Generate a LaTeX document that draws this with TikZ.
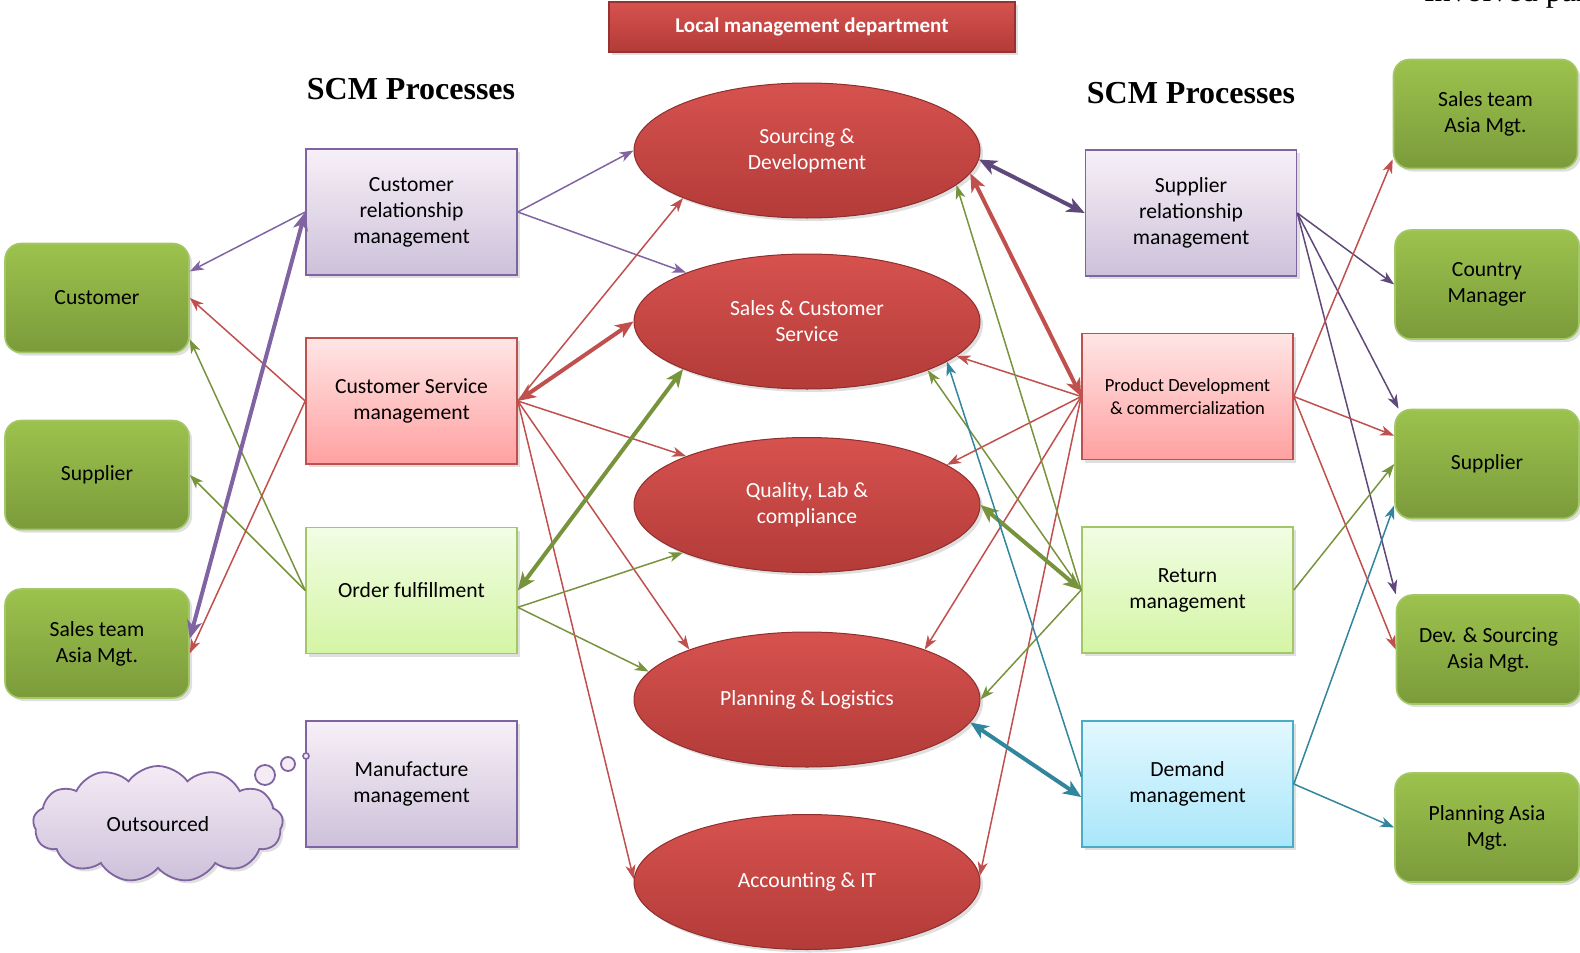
\documentclass[tikz,border=0pt]{standalone}
\usepackage{fontspec}
\setmainfont{Carlito}
\newfontfamily\timesfont{Liberation Serif}
\usepackage{tikz}
\usetikzlibrary{arrows.meta,shapes.geometric,shapes.symbols,shadows,calc}

\definecolor{olgreen}{HTML}{77933C}
\definecolor{ltgreen}{HTML}{A3C767}
\definecolor{greentop}{HTML}{9CC24D}
\definecolor{greenbot}{HTML}{7B9B3B}
\definecolor{offpurple}{HTML}{8064A2}
\definecolor{dkpurple}{HTML}{5F497A}
\definecolor{offred}{HTML}{C0504D}
\definecolor{offteal}{HTML}{31859C}
\definecolor{offcyan}{HTML}{4BACC6}
\definecolor{redtop}{HTML}{D6524F}
\definecolor{redbot}{HTML}{B33B38}
\definecolor{limetop}{HTML}{F1FDE4}
\definecolor{limebot}{HTML}{D4F5A4}
\definecolor{skytop}{HTML}{E2F8FF}
\definecolor{skybot}{HTML}{A9E6FA}

\tikzset{
  txt/.style={font=\fontsize{10.8}{13}\selectfont, align=center, inner sep=0pt},
  softshadow/.style={drop shadow={shadow xshift=1.5pt, shadow yshift=-1.5pt, opacity=0.25}},
  party/.style={txt, rectangle, rounded corners=8pt, draw=ltgreen, line width=0.8pt,
    top color=greentop, bottom color=greenbot, minimum width=92pt, minimum height=54.5pt, softshadow},
  procbox/.style={txt, rectangle, line width=0.8pt, minimum width=105.5pt, minimum height=63pt, softshadow},
  purplebox/.style={procbox, draw=offpurple, top color=violet!6, bottom color=offpurple!40},
  pinkbox/.style={procbox, draw=offred, top color=red!10, bottom color=red!37},
  limebox/.style={procbox, draw=ltgreen, top color=limetop, bottom color=limebot},
  cyanbox/.style={procbox, draw=offcyan, top color=skytop, bottom color=skybot},
  dept/.style={txt, ellipse, text=white, draw=redbot!80!black, line width=0.5pt,
    top color=redtop, bottom color=redbot, minimum width=173pt, minimum height=67.5pt, softshadow},
  banner/.style={rectangle, text=white, font=\bfseries\fontsize{10.5}{12}\selectfont,
    draw=redbot!85!black, line width=0.6pt, top color=redtop, bottom color=redbot,
    minimum width=203pt, minimum height=25pt, softshadow},
  heading/.style={font=\timesfont\bfseries\fontsize{16}{18}\selectfont},
  thinarrow/.style={line width=0.75pt, -{Stealth[length=7pt,width=5pt,inset=2pt]}},
  thickarrow/.style={line width=2pt, {Stealth[length=9pt,width=7.5pt,inset=2.5pt]}-{Stealth[length=9pt,width=7.5pt,inset=2.5pt]}}
}

\begin{document}
\begin{tikzpicture}[x=0.5pt, y=-0.5pt]
\useasboundingbox (0,0) rectangle (1580,953);
\clip (0,0) rectangle (1580,953);

\node [banner] (lmd) at (812,27) {Local management department};
\node [heading] (scml) at (411,89) {SCM Processes};
\node [heading] (scmr) at (1191,93) {SCM Processes};
\node [anchor=base west, font=\timesfont\fontsize{16}{18}\selectfont] (inv) at (1417,2) {Involved parties};

\node [party] (cust) at (97,298) {Customer};
\node [party] (sup) at (97,475) {Supplier};
\node [party] (sta) at (97,643.5) {Sales team\\Asia Mgt.};

\node [party] (sta2) at (1485.5,114) {Sales team\\Asia Mgt.};
\node [party] (cm) at (1487,284.5) {Country\\Manager};
\node [party] (sup2) at (1487,464) {Supplier};
\node [party] (dsa) at (1488.5,649.5) {Dev. \& Sourcing\\Asia Mgt.};
\node [party] (pam) at (1487,827.5) {Planning Asia\\Mgt.};

\node [purplebox] (crm) at (411.5,212) {Customer\\relationship\\management};
\node [pinkbox] (csm) at (411.5,401) {Customer Service\\management};
\node [limebox] (of) at (411.5,590.5) {Order fulfillment};
\node [purplebox] (mm) at (411.5,784) {Manufacture\\management};

\node [purplebox] (srm) at (1191,213) {Supplier\\relationship\\management};
\node [pinkbox, font=\fontsize{9.3}{11.2}\selectfont] (pdc) at (1187.5,396.5) {Product Development\\\& commercialization};
\node [limebox] (rm) at (1187.5,590) {Return\\management};
\node [cyanbox] (dm) at (1187.5,784) {Demand\\management};

\node [dept] (sd) at (807,150.5) {Sourcing \&\\Development};
\node [dept] (scs) at (807,321.5) {Sales \& Customer\\Service};
\node [dept] (qlc) at (807,505) {Quality, Lab \&\\compliance};
\node [dept] (pl) at (807,699.5) {Planning \& Logistics};
\node [dept] (ait) at (807,882) {Accounting \& IT};

\node [txt, cloud, cloud puffs=13, cloud puff arc=110, aspect=2.1, draw=offpurple, line width=0.9pt,
  top color=violet!8, bottom color=offpurple!40, minimum width=125pt, minimum height=58pt, softshadow] (outs) at (158,824) {Outsourced};
\node [circle, draw=offpurple, line width=0.9pt, fill=violet!8, minimum size=10pt, inner sep=0pt] (b1) at (265,775) {};
\node [circle, draw=offpurple, line width=0.9pt, fill=violet!8, minimum size=7pt, inner sep=0pt] (b2) at (288,764) {};
\node [circle, draw=offpurple, line width=0.8pt, fill=violet!8, minimum size=3pt, inner sep=0pt] (b3) at (306,756) {};

\draw [thinarrow, offpurple] (crm.west) -- (cust.16);
\draw [thinarrow, offred] (csm.west) -- (cust.east);
\draw [thinarrow, olgreen] (of.west) -- (cust.-24);
\draw [thinarrow, olgreen] (of.west) -- (sup.east);
\draw [thickarrow, offpurple] (sta.3) -- (crm.west);
\draw [thinarrow, offred] (csm.west) -- (sta.-6);

\draw [thinarrow, offpurple] (crm.east) -- (sd.west);
\draw [thinarrow, offpurple] (crm.east) -- (scs.158);
\draw [thickarrow, offred] (csm.east) -- (scs.west);
\draw [thinarrow, offred] (csm.east) -- (sd.201);
\draw [thinarrow, offred] (csm.east) -- (qlc.158);
\draw [thinarrow, offred] (csm.east) -- (pl.157);
\draw [thinarrow, offred] (csm.east) -- (ait.179);
\draw [thickarrow, olgreen] (of.east) -- (scs.201);
\draw [thinarrow, olgreen] (of.-9) -- (qlc.201);
\draw [thinarrow, olgreen] (of.-9) -- (pl.170);

\draw [thickarrow, dkpurple] (sd.-3) -- (srm.west);
\draw [thickarrow, offred] (sd.-8) -- (pdc.west);
\draw [thinarrow, offred] (pdc.west) -- (scs.-13);
\draw [thinarrow, offred] (pdc.west) -- (qlc.16);
\draw [thinarrow, offred] (pdc.west) -- (pl.23);
\draw [thinarrow, offred] (pdc.west) -- (ait.2);
\draw [thinarrow, olgreen] (rm.west) -- (sd.-13);
\draw [thinarrow, olgreen] (rm.west) -- (scs.-22);
\draw [thickarrow, olgreen] (qlc.east) -- (rm.west);
\draw [thinarrow, olgreen] (rm.west) -- (pl.east);
\draw [thinarrow, offteal] (dm.176) -- (scs.-16);
\draw [thickarrow, offteal] (pl.-8) -- (dm.187);

\draw [thinarrow, dkpurple] (srm.east) -- (cm.west);
\draw [thinarrow, dkpurple] (srm.east) -- (sup2.148);
\draw [thinarrow, dkpurple] (srm.east) -- (dsa.north west);
\draw [thinarrow, offred] (pdc.east) -- (sta2.206);
\draw [thinarrow, offred] (pdc.east) -- (sup2.163);
\draw [thinarrow, offred] (pdc.east) -- (dsa.west);
\draw [thinarrow, olgreen] (rm.east) -- (sup2.west);
\draw [thinarrow, offteal] (dm.east) -- (sup2.204);
\draw [thinarrow, offteal] (dm.east) -- (pam.west);
\end{tikzpicture}
\end{document}
